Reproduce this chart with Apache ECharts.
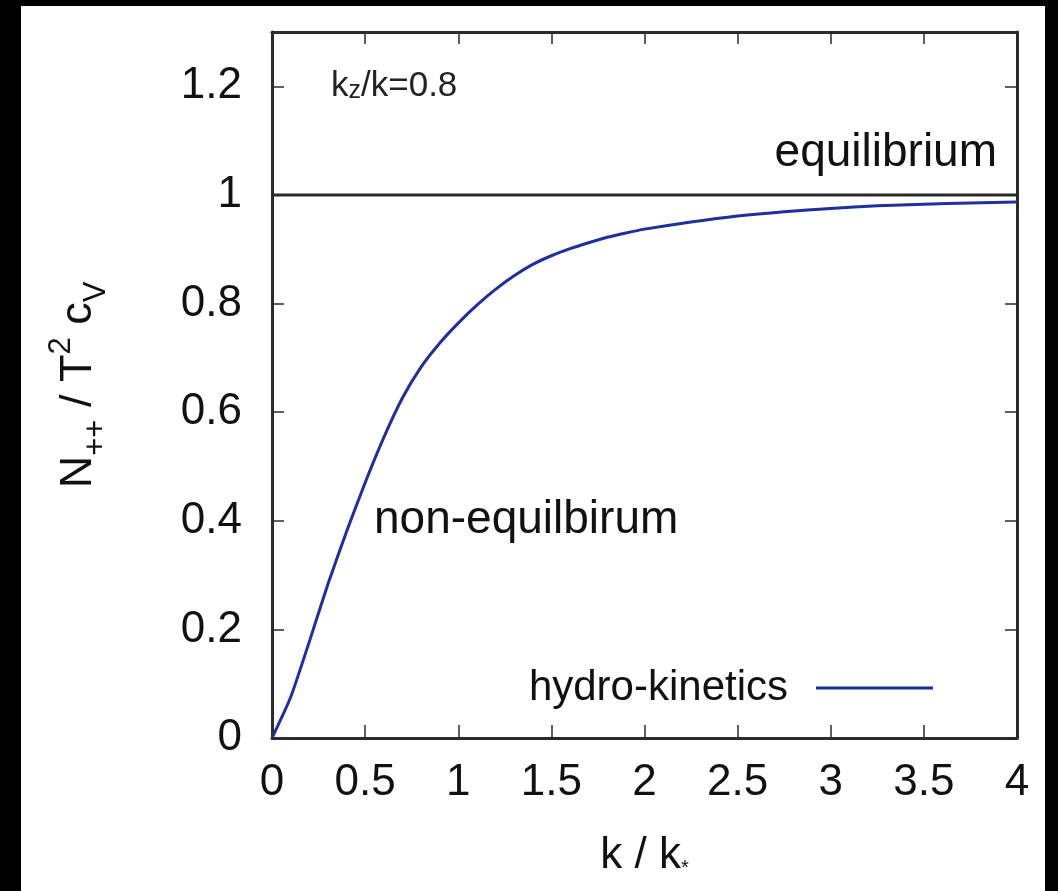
<!DOCTYPE html>
<html>
<head>
<meta charset="utf-8">
<script src="https://cdn.jsdelivr.net/npm/echarts@6/dist/echarts.min.js"></script>
<style>
  html, body { margin: 0; padding: 0; background: #000; }
  #chart { position: absolute; left: 21px; top: 6px; width: 1024px; height: 885px; background: #fff; }
</style>
</head>
<body>
<div id="chart"></div>
<script>
// values
let kValues = [0, 0.1, 0.2, 0.3, 0.4, 0.5, 0.6, 0.7, 0.8, 0.9, 1.0, 1.1, 1.2, 1.3, 1.4, 1.5, 1.6, 1.7, 1.8, 1.9, 2.0,
    2.25, 2.5, 2.75, 3.0, 3.25, 3.5, 3.75, 4.0];
let hydroKinetics = [0, 0.075, 0.177, 0.283, 0.38, 0.47, 0.553, 0.626, 0.683, 0.727, 0.764, 0.797, 0.826, 0.851, 0.872, 0.888, 0.901, 0.912, 0.922, 0.93, 0.937,
    0.95, 0.961, 0.969, 0.975, 0.98, 0.983, 0.985, 0.987];
let equilibriumK = [0, 4];
let equilibriumY = [1, 1];

let font = 'Liberation Sans';
let axisColor = '#2b2b2b';
let curveColor = '#1f2f9f';

let chart = echarts.init(document.getElementById('chart'));

let curveData = kValues.map((k, i) => [k, hydroKinetics[i]]);
let eqData = equilibriumK.map((k, i) => [k, equilibriumY[i]]);

let mirrorAxis = {
    axisLine: { show: true, onZero: false, lineStyle: { color: axisColor, width: 3 } },
    axisTick: { show: true, inside: true, length: 12, lineStyle: { color: axisColor, width: 1.5 } },
    axisLabel: { show: false },
    splitLine: { show: false }
};

let option = {
    animation: false,
    grid: { left: 251, top: 26, width: 745, height: 706 },
    xAxis: [{
        type: 'value', min: 0, max: 4, interval: 0.5,
        name: '{a|k / k}{s|*}',
        nameLocation: 'middle',
        nameGap: 96,
        nameTextStyle: {
            rich: {
                a: { fontFamily: font, fontSize: 44, color: '#111' },
                s: { fontFamily: font, fontSize: 20, color: '#111', verticalAlign: 'bottom', lineHeight: 20 }
            }
        },
        axisLine: { show: true, onZero: false, lineStyle: { color: axisColor, width: 3 } },
        axisTick: { inside: true, length: 13, lineStyle: { color: axisColor, width: 1.5 } },
        axisLabel: { margin: 23, fontFamily: font, fontSize: 44, color: '#111' },
        splitLine: { show: false }
    }, Object.assign({ type: 'value', min: 0, max: 4, interval: 0.5, position: 'top' }, mirrorAxis)],
    yAxis: [{
        type: 'value', min: 0, max: 1.3, interval: 0.2,
        name: '{a|N}{s|++}{a| / T}{p|2}{a| c}{s|V}',
        nameLocation: 'middle',
        nameGap: 160,
        nameRotate: 90,
        nameTextStyle: {
            rich: {
                a: { fontFamily: font, fontSize: 45, color: '#111', lineHeight: 66 },
                s: { fontFamily: font, fontSize: 31, color: '#111', verticalAlign: 'bottom', lineHeight: 30 },
                p: { fontFamily: font, fontSize: 31, color: '#111', verticalAlign: 'top', lineHeight: 30 }
            }
        },
        axisLine: { show: true, onZero: false, lineStyle: { color: axisColor, width: 3 } },
        axisTick: { inside: true, length: 12, lineStyle: { color: axisColor, width: 1.5 } },
        axisLabel: { margin: 30, showMaxLabel: false, fontFamily: font, fontSize: 44, color: '#111' },
        splitLine: { show: false }
    }, Object.assign({ type: 'value', min: 0, max: 1.3, interval: 0.2, position: 'right' }, mirrorAxis)],
    legend: {
        data: [{ name: 'hydro-kinetics', icon: 'rect' }],
        right: 107,
        top: 656,
        align: 'right',
        itemWidth: 117,
        itemHeight: 3,
        textStyle: { fontFamily: font, fontSize: 42, color: '#111', padding: [0, 23, 0, 0] }
    },
    graphic: [
        {
            type: 'text', left: 310, top: 63,
            style: {
                text: '{a|k}{s|z}{a|/k=0.8}',
                rich: {
                    a: { fontFamily: font, fontSize: 35, fill: '#222' },
                    s: { fontFamily: font, fontSize: 25, fill: '#222', verticalAlign: 'bottom', lineHeight: 18 }
                }
            }
        },
        {
            type: 'text', right: 48, top: 124,
            style: { text: 'equilibrium', fontFamily: font, fontSize: 46, fill: '#111' }
        },
        {
            type: 'text', left: 353, top: 491,
            style: { text: 'non-equilbirum', fontFamily: font, fontSize: 46, fill: '#111' }
        }
    ],
    series: [
        {
            name: 'equilibrium',
            type: 'line',
            data: eqData,
            symbol: 'none',
            silent: true,
            lineStyle: { color: axisColor, width: 3 }
        },
        {
            name: 'hydro-kinetics',
            type: 'line',
            data: curveData,
            symbol: 'none',
            smooth: 0.2,
            lineStyle: { color: curveColor, width: 3 },
            itemStyle: { color: curveColor }
        }
    ]
};

chart.setOption(option);
</script>
</body>
</html>
